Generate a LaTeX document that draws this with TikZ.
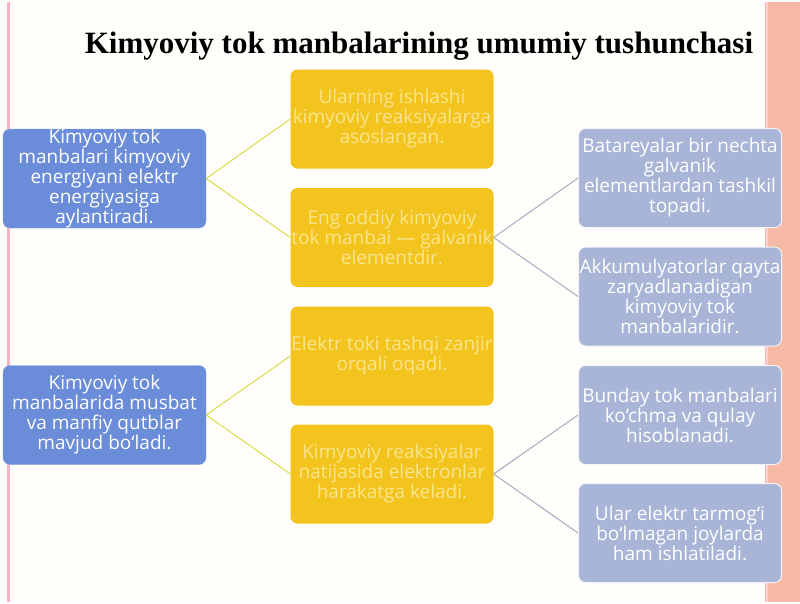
\documentclass[tikz,border=0pt]{standalone}
\usepackage{fontspec}
\setmainfont{Liberation Serif}
\newfontfamily\blocfont{Open Sans}
\definecolor{fond}{HTML}{FFFEFB}
\definecolor{saumon}{HTML}{F5B9A6}
\definecolor{rose}{HTML}{F6B3C2}
\definecolor{bleu}{HTML}{6A8CD9}
\definecolor{jaune}{HTML}{F3C41E}
\definecolor{jaunetexte}{HTML}{FAE58E}
\definecolor{gris}{HTML}{A8B5D7}
\definecolor{lienjaune}{HTML}{DCD94A}
\definecolor{liengris}{HTML}{A6ACC4}
\begin{document}
\begin{tikzpicture}[x=1pt, y=-1pt,
    bloc/.style={rounded corners=7pt, minimum width=203pt, minimum height=99pt,
        inner sep=0pt, align=center, font=\blocfont\fontsize{19}{20}\selectfont},
    blocbleu/.style={bloc, fill=bleu, draw=bleu!80!white, text=white},
    blocjaune/.style={bloc, fill=jaune, text=jaunetexte},
    blocgris/.style={bloc, fill=gris, draw=white!85!gris, line width=1pt, text=white}]
    % Fond
    \fill[fond] (0,0) rectangle (800,600);
    \fill[saumon] (765,0) rectangle (800,600);
    \draw[rose, line width=3pt] (8,0) -- (8,600);
    \draw[rose!60!white, line width=2pt] (767,0) -- (767,600);

    % Titre
    \node[font=\bfseries\fontsize{31}{36}\selectfont] (titre) at (419,45)
        {Kimyoviy tok manbalarining umumiy tushunchasi};

    % Colonne gauche
    \node[blocbleu] (A1) at (104.5,177) {Kimyoviy tok\\manbalari kimyoviy\\energiyani elektr\\energiyasiga\\aylantiradi.};
    \node[blocbleu] (A2) at (104.5,413.5) {Kimyoviy tok\\manbalarida musbat\\va manfiy qutblar\\mavjud bo‘ladi.};

    % Colonne du milieu
    \node[blocjaune] (B1) at (392,117.5) {Ularning ishlashi\\kimyoviy reaksiyalarga\\asoslangan.};
    \node[blocjaune] (B2) at (392,236) {Eng oddiy kimyoviy\\tok manbai — galvanik\\elementdir.};
    \node[blocjaune] (B3) at (392,354.5) {Elektr toki tashqi zanjir\\orqali oqadi.};
    \node[blocjaune] (B4) at (392,472.5) {Kimyoviy reaksiyalar\\natijasida elektronlar\\harakatga keladi.};

    % Colonne droite
    \node[blocgris] (C1) at (680,176.5) {Batareyalar bir nechta\\galvanik\\elementlardan tashkil\\topadi.};
    \node[blocgris] (C2) at (680,295) {Akkumulyatorlar qayta\\zaryadlanadigan\\kimyoviy tok\\manbalaridir.};
    \node[blocgris] (C3) at (680,413.5) {Bunday tok manbalari\\ko‘chma va qulay\\hisoblanadi.};
    \node[blocgris] (C4) at (680,531.5) {Ular elektr tarmog‘i\\bo‘lmagan joylarda\\ham ishlatiladi.};

    % Liens
    \foreach \a/\b in {A1/B1, A1/B2, A2/B3, A2/B4}
        \draw[lienjaune, line width=1pt] (\a.east) -- (\b.west);
    \foreach \a/\b in {B2/C1, B2/C2, B4/C3, B4/C4}
        \draw[liengris, line width=1pt] (\a.east) -- (\b.west);
\end{tikzpicture}
\end{document}
